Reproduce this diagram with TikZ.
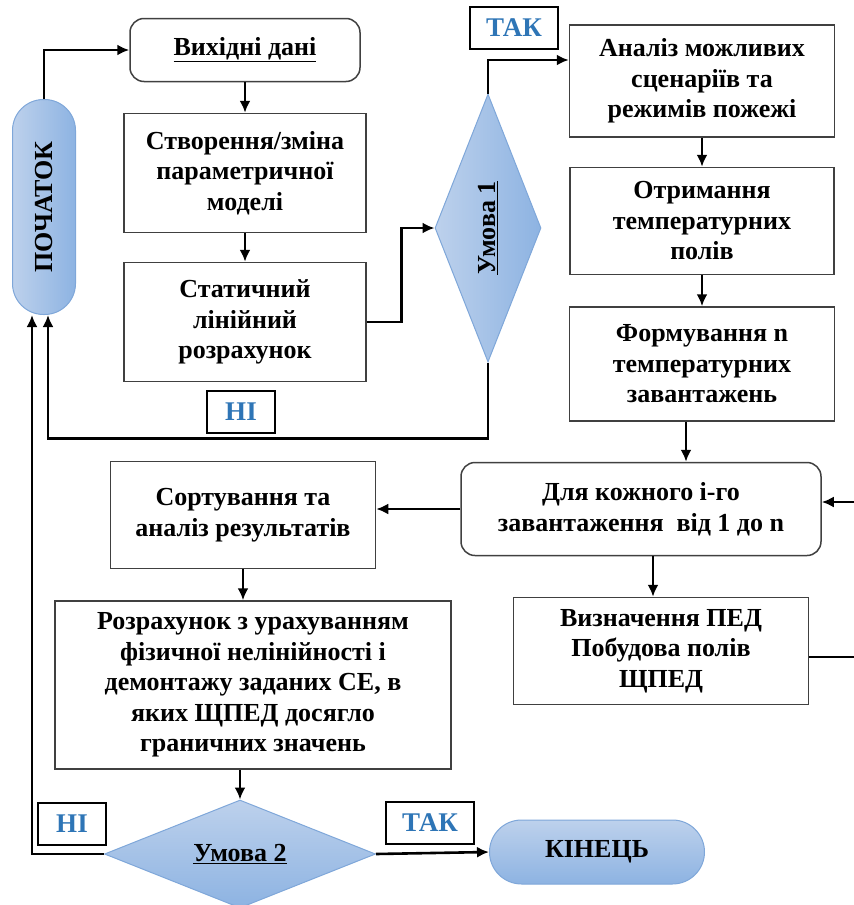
\documentclass[tikz,border=0pt]{standalone}
\usepackage{fontspec}
\setmainfont{Liberation Serif}
\usepackage{graphicx}
\usetikzlibrary{arrows.meta,shapes.geometric}

\definecolor{tagblue}{HTML}{2E75B6}
\definecolor{fillhi}{HTML}{BDD1EC}
\definecolor{filllo}{HTML}{8DB3E2}
\definecolor{shapeline}{HTML}{7FA7D9}
\definecolor{boxline}{HTML}{404040}

\tikzset{
  txt/.style={font=\bfseries\fontsize{26}{30.5}\selectfont, align=center},
  proc/.style={txt, draw=boxline, line width=1.5pt, rectangle, inner sep=0pt},
  rproc/.style={proc, rounded corners=14pt},
  term/.style={txt, draw=shapeline, line width=1pt, rectangle, inner sep=0pt},
  cond/.style={txt, draw=shapeline, line width=1pt, diamond, inner sep=0pt},
  tag/.style={draw, line width=1.5pt, font=\bfseries\fontsize{27}{30}\selectfont, text=tagblue, minimum width=88pt, minimum height=42pt, inner sep=0pt},
  line/.style={line width=2.6pt},
  arrow/.style={line, -{Latex[length=12pt,width=11pt]}}
}

\begin{document}
\begin{tikzpicture}[x=1pt,y=-1pt,node distance=145pt]
\useasboundingbox (0,0) rectangle (854,905);

\node[term, rounded corners=31pt, minimum width=63pt, minimum height=215pt, left color=fillhi, right color=filllo] (start) at (44,207) {\rotatebox{90}{ПОЧАТОК}};
\node[rproc, minimum width=230pt, minimum height=63pt] (input) at (245,50) {\underline{Вихідні дані}};
\node[proc, minimum width=242pt, minimum height=119pt] (model) [below of=input, yshift=22pt] {Створення/зміна\\параметричної\\моделі};
\node[proc, minimum width=242pt, minimum height=119pt] (calc) [below of=model, yshift=-4pt] {Статичний\\лінійний\\розрахунок};
\node[cond, shape aspect=0.4, minimum width=106pt, minimum height=268pt, left color=fillhi, right color=filllo] (cond1) at (488,228) {\rotatebox{90}{\underline{Умова 1}}};

\node[proc, minimum width=265pt, minimum height=112pt] (scen) at (702,81) {Аналіз можливих\\сценаріїв та\\режимів пожежі};
\node[proc, minimum width=264pt, minimum height=107pt] (field) [below of=scen, yshift=5pt] {Отримання\\температурних\\полів};
\node[proc, minimum width=265pt, minimum height=114pt] (loads) [below of=field, yshift=2pt] {Формування n\\температурних\\завантажень};
\node[rproc, minimum width=360pt, minimum height=93pt] (loop) [below of=loads, xshift=-61pt] {Для кожного і-го\\завантаження\ \ від 1 до n};
\node[proc, minimum width=295pt, minimum height=107pt] (ped) [below of=loop, xshift=20pt, yshift=3pt] {Визначення ПЕД\\Побудова полів\\ЩПЕД};

\node[proc, minimum width=265pt, minimum height=107pt] (sort) at (243,515) {Сортування та\\аналіз результатів};
\node[proc, minimum width=396pt, minimum height=168pt] (res) [below of=sort, xshift=10pt, yshift=-25pt] {Розрахунок з урахуванням\\фізичної нелінійності і\\демонтажу заданих СЕ, в\\яких ЩПЕД досягло\\граничних значень};
\node[cond, shape aspect=2.5, minimum width=271pt, minimum height=108pt, top color=fillhi, bottom color=filllo] (cond2) [below of=res, xshift=-13pt, yshift=-24pt] {\underline{Умова 2}};
\node[term, rounded corners=32pt, minimum width=215pt, minimum height=64pt, top color=fillhi, bottom color=filllo] (fin) at (597,852) {КІНЕЦЬ};

% labels on the branches
\node[tag] (yes1) at (514,28) {ТАК};
\node[tag, minimum width=68pt] (no1) at (241,412) {НІ};
\node[tag, minimum width=68pt] (no2) at (72,824) {НІ};
\node[tag] (yes2) at (430,823) {ТАК};

\coordinate (rin) at (854,502);
\coordinate (rout) at (854,657);

\draw[arrow] (start.north) |- (input.west);
\draw[arrow] (input) -- (model);
\draw[arrow] (model) -- (calc);
\draw[arrow] (calc.east) -- ++(35,0) |- (cond1.west);
\draw[arrow] (cond1.north) |- ([yshift=21pt]scen.west);
\draw[arrow] (cond1.south) -- ++(0,76) -| ([xshift=4pt]start.south);
\draw[arrow] (scen) -- (field);
\draw[arrow] (field) -- (loads);
\draw[arrow] ([xshift=-16pt]loads.south) -- ([xshift=-16pt]loads.south |- loop.north);
\draw[arrow] (loop.west) -- (loop.west -| sort.east);
\draw[arrow] (rin) -- (rin -| loop.east);
\draw[arrow] ([xshift=12pt]loop.south) -- ([xshift=12pt]loop.south |- ped.north);
\draw[line] (rout -| ped.east) -- (rout);
\draw[arrow] (sort.south) -- (sort.south |- res.north);
\draw[arrow] (res.south -| cond2.north) -- (cond2.north);
\draw[arrow] (cond2.west) -| ([xshift=-12pt]start.south);
\draw[arrow] (cond2.east) -- (fin.west);
\end{tikzpicture}
\end{document}
